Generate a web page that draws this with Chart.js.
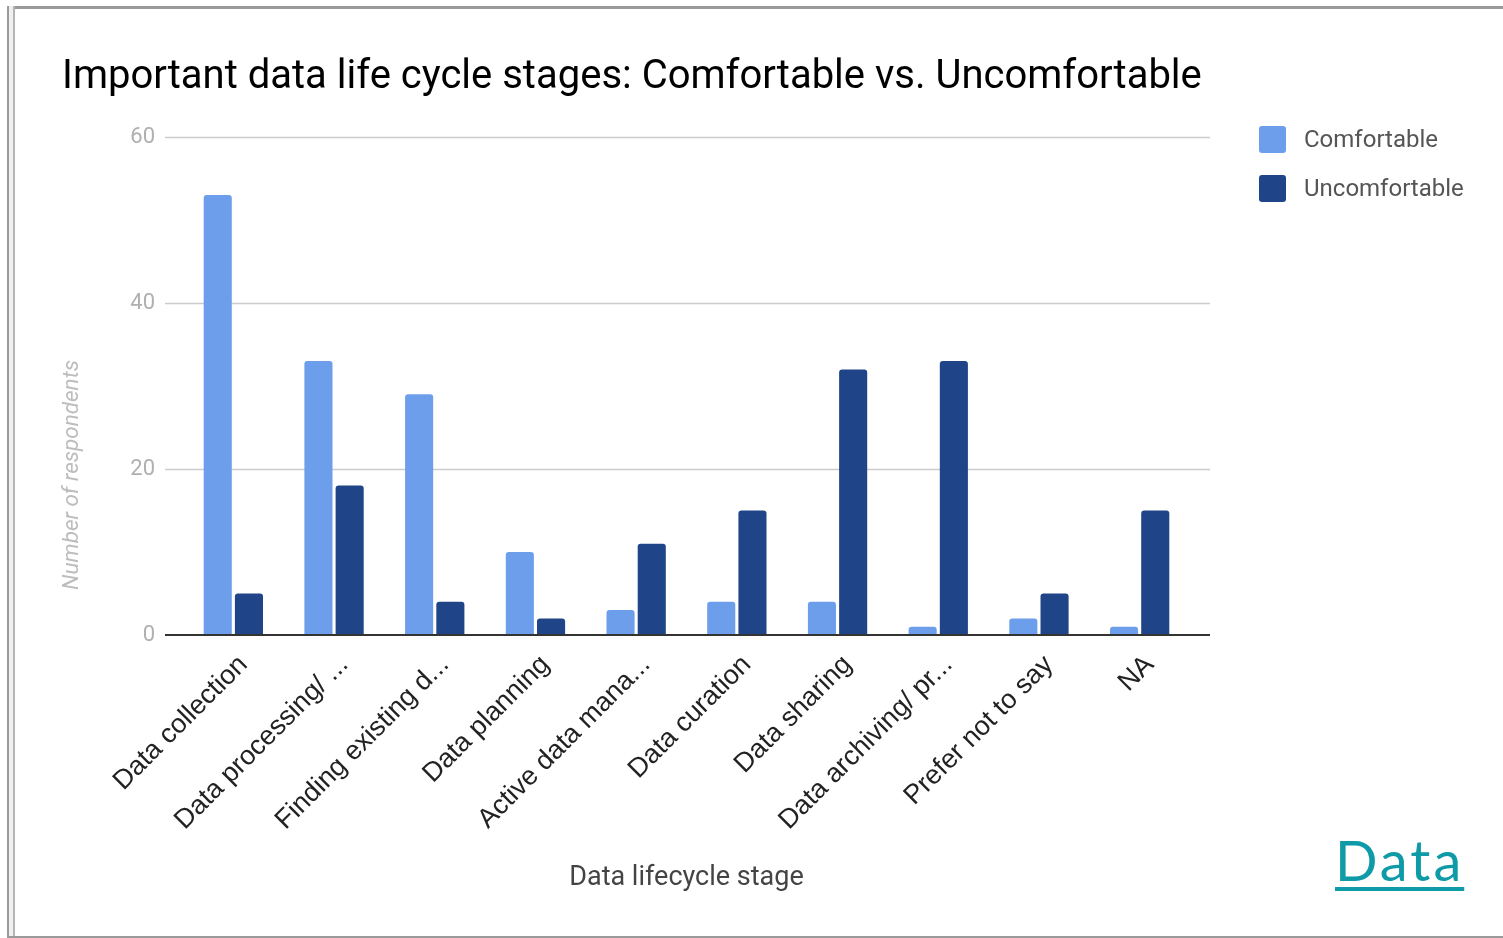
<!DOCTYPE html>
<html>
<head>
<meta charset="utf-8">
<script src="https://cdn.jsdelivr.net/npm/chart.js@4.4.1/dist/chart.umd.min.js"></script>
<style>
  html, body { margin: 0; padding: 0; background: #fff; }
  #page { position: relative; width: 1503px; height: 938px; overflow: hidden; }
  #chartBox { position: absolute; left: 0; top: 0; width: 1503px; height: 938px; }
  #chartTitle { position: absolute; left: 62px; top: 51px; font: 40px Roboto, sans-serif; line-height: 48px;
    color: #000; white-space: nowrap; margin: 0; }
  .edge { position: absolute; background: #9a9a9a; }
  .legendRow { position: absolute; left: 1259px; height: 27px; font: 24px Roboto, sans-serif; color: #555; }
  .legendRow span.sw { position: absolute; left: 0; top: 0; width: 27px; height: 27px; border-radius: 3px; }
  .legendRow span.tx { position: absolute; left: 45px; top: 0; line-height: 27px; white-space: nowrap; }
  #dataLink { position: absolute; left: 1335px; top: 826px; font: 56px Lato, sans-serif; color: #0e9aa7;
    letter-spacing: 3px; text-decoration: underline; text-decoration-thickness: 4px; text-underline-offset: 6px; }
</style>
</head>
<body>
<div id="page">
  <div id="chartBox"><canvas id="stagesCanvas"></canvas></div>
  <div id="chartTitle"></div>
  <div class="edge" style="left:7px;top:6px;width:1496px;height:3px;"></div>
  <div class="edge" style="left:7px;top:6px;width:2px;height:932px;"></div>
  <div class="edge" style="left:13px;top:6px;width:2px;height:932px;background:#b5b5b5;"></div>
  <div class="edge" style="left:9px;top:6px;width:4px;height:932px;background:#f0f0f0;"></div>
  <div class="edge" style="left:7px;top:936px;width:1496px;height:2px;"></div>
  <div class="legendRow" style="top:126px;"><span class="sw" id="sw0"></span><span class="tx" id="lg0"></span></div>
  <div class="legendRow" style="top:175px;"><span class="sw" id="sw1"></span><span class="tx" id="lg1"></span></div>
  <a id="dataLink" href="#">Data</a>
</div>
<script>
//Data
const stages = ['Data collection', 'Data processing/ ...', 'Finding existing d...', 'Data planning',
    'Active data mana...', 'Data curation', 'Data sharing', 'Data archiving/ pr...', 'Prefer not to say', 'NA'];
const comfortable = [53, 33, 29, 10, 3, 4, 4, 1, 2, 1];
const uncomfortable = [5, 18, 4, 2, 11, 15, 32, 33, 5, 15];
const seriesNames = ['Comfortable', 'Uncomfortable'];
const yTicks = [0, 20, 40, 60];

const colours = ['#6d9eeb', '#1f4588'];
const titleText = 'Important data life cycle stages: Comfortable vs. Uncomfortable';
const yTitle = 'Number of respondents';
const xTitle = 'Data lifecycle stage';

//title + legend (html)
document.getElementById('chartTitle').textContent = titleText;
seriesNames.forEach((name, i) => {
    document.getElementById('sw' + i).style.background = colours[i];
    document.getElementById('lg' + i).textContent = name;
});

//gridlines + y axis title, drawn from the y scale
const gridPlugin = {
    id: 'gridPlugin',
    beforeDatasetsDraw(chart) {
        const ctx = chart.ctx;
        const area = chart.chartArea;
        const y = chart.scales.y;
        ctx.save();
        ctx.strokeStyle = '#cccccc';
        ctx.lineWidth = 1.5;
        yTicks.forEach(v => {
            if (v === 0) return;
            const py = Math.round(y.getPixelForValue(v)) + 0.5;
            ctx.beginPath();
            ctx.moveTo(area.left - 18, py);
            ctx.lineTo(area.right + 20, py);
            ctx.stroke();
        });
        //y axis title
        ctx.translate(72, 475);
        ctx.rotate(-Math.PI / 2);
        ctx.fillStyle = '#bdbdbd';
        ctx.font = 'italic 22.5px Roboto';
        ctx.textAlign = 'center';
        ctx.textBaseline = 'middle';
        ctx.fillText(yTitle, 0, 0);
        ctx.restore();
    },
    afterDatasetsDraw(chart) {
        const ctx = chart.ctx;
        const area = chart.chartArea;
        const py = chart.scales.y.getPixelForValue(0);
        ctx.save();
        ctx.strokeStyle = '#333333';
        ctx.lineWidth = 2;
        ctx.beginPath();
        ctx.moveTo(area.left - 18, py);
        ctx.lineTo(area.right + 20, py);
        ctx.stroke();
        ctx.restore();
    }
};

let stagesChart;

function createChart(context) {
    return new Chart(context, {
        type: 'bar',
        data: {
            labels: stages,
            datasets: [
                { label: seriesNames[0], data: comfortable, backgroundColor: colours[0] },
                { label: seriesNames[1], data: uncomfortable, backgroundColor: colours[1] }
            ]
        },
        options: {
            responsive: false,
            animation: false,
            layout: { padding: { left: 62, right: 313, top: 137, bottom: 40 } },
            datasets: {
                bar: {
                    barPercentage: 0.9,
                    categoryPercentage: 0.62,
                    borderRadius: { topLeft: 3, topRight: 3 },
                    borderSkipped: 'bottom'
                }
            },
            plugins: {
                legend: { display: false },
                tooltip: { enabled: false },
                title: { display: false }
            },
            scales: {
                x: {
                    grid: { display: false },
                    border: { display: false },
                    ticks: {
                        autoSkip: false,
                        maxRotation: 45,
                        minRotation: 45,
                        labelOffset: 10,
                        padding: 6,
                        color: '#222',
                        font: { family: 'Liberation Sans', size: 27 }
                    },
                    title: {
                        display: true,
                        text: xTitle,
                        color: '#444',
                        font: { family: 'Roboto', size: 27 },
                        padding: { top: 0, bottom: 4 }
                    },
                    afterFit(scale) { scale.height = 938 - 40 - 635; }
                },
                y: {
                    min: 0,
                    max: 60,
                    grid: { display: false },
                    border: { display: false },
                    ticks: {
                        stepSize: 20,
                        padding: 20,
                        color: '#b0b0b0',
                        font: { family: 'Roboto', size: 22 }
                    },
                    afterFit(scale) { scale.width = 121; }
                }
            }
        },
        plugins: [gridPlugin]
    });
}

const canvas = document.getElementById('stagesCanvas');
canvas.width = 1503;
canvas.height = 938;
stagesChart = createChart(canvas.getContext('2d'));
</script>
</body>
</html>
